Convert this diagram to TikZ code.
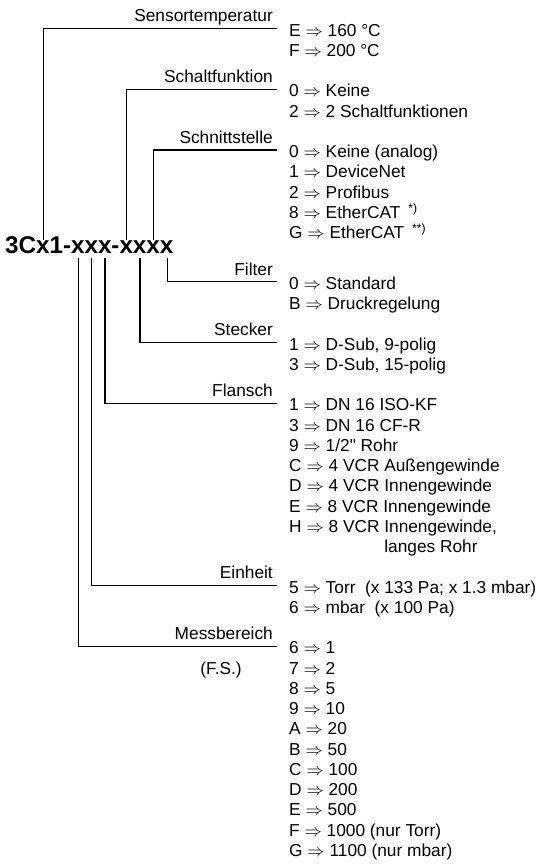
\documentclass[tikz,border=0pt]{standalone}
\usepackage{fontspec}
\setmainfont{Liberation Sans}
\tikzset{
  wire/.style={line width=1.1pt,line cap=rect},
  codetext/.style={anchor=base west,inner sep=0pt,font=\fontsize{24.2}{28}\selectfont\bfseries},
  lbl/.style={anchor=base east,inner sep=0pt},
  val/.style={anchor=base west,inner sep=0pt}
}
\newcommand{\ra}{$\Rightarrow$}

\begin{document}
\begin{tikzpicture}[x=1pt,y=-1pt,font=\fontsize{17.3}{20.25}\selectfont]
\useasboundingbox (0,0) rectangle (543,864);

% Typenschluessel
\node[codetext] (code) at (5,253) {3Cx1-xxx-xxxx};

% Stellen ueber / unter dem Code
\coordinate (tSens) at (43.3,239);
\coordinate (tSchalt) at (126.7,239);
\coordinate (tSchnitt) at (153.3,239);
\coordinate (tFilter) at (167.7,259);
\coordinate (tSteck) at (140,259);
\coordinate (tFlan) at (105,259);
\coordinate (tEinh) at (91.7,259);
\coordinate (tMess) at (78.3,259);

% Linienenden
\coordinate (eSens) at (276,28.5);
\coordinate (eSchalt) at (276,89.25);
\coordinate (eSchnitt) at (276,150);
\coordinate (eFilter) at (276,281.6);
\coordinate (eSteck) at (276,342.4);
\coordinate (eFlan) at (276,403.1);
\coordinate (eEinh) at (276,585.4);
\coordinate (eMess) at (276,646.1);

\draw[wire] (tSens) |- (eSens);
\draw[wire] (tSchalt) |- (eSchalt);
\draw[wire] (tSchnitt) |- (eSchnitt);
\draw[wire] (tFilter) |- (eFilter);
\draw[wire] (tSteck) |- (eSteck);
\draw[wire] (tFlan) |- (eFlan);
\draw[wire] (tEinh) |- (eEinh);
\draw[wire] (tMess) |- (eMess);

\node[lbl] (lSens) at ([shift={(-3,-6.5)}]eSens) {Sensortemperatur};
\node[lbl] (lSchalt) at ([shift={(-3,-6.5)}]eSchalt) {Schaltfunktion};
\node[lbl] (lSchnitt) at ([shift={(-3,-6.5)}]eSchnitt) {Schnittstelle};
\node[lbl] (lFilter) at ([shift={(-3,-6.5)}]eFilter) {Filter};
\node[lbl] (lSteck) at ([shift={(-3,-6.5)}]eSteck) {Stecker};
\node[lbl] (lFlan) at ([shift={(-3,-6.5)}]eFlan) {Flansch};
\node[lbl] (lEinh) at ([shift={(-3,-6.5)}]eEinh) {Einheit};
\node[lbl] (lMess) at ([shift={(-3,-6.5)}]eMess) {Messbereich};
\node[anchor=base,inner sep=0pt] (fs) at (221,674) {(F.S.)};

% Werte
\foreach \t [count=\i from 0] in {E \ra{} 160 °C, F \ra{} 200 °C}
  \node[val] (vSens\i) at ([shift={(13,7.7+20.25*\i)}]eSens) {\t};
\foreach \t [count=\i from 0] in {0 \ra{} Keine, 2 \ra{} 2 Schaltfunktionen}
  \node[val] (vSchalt\i) at ([shift={(13,7.7+20.25*\i)}]eSchalt) {\t};
\foreach \t [count=\i from 0] in {0 \ra{} Keine (analog), 1 \ra{} DeviceNet, 2 \ra{} Profibus,
    8 \ra{} EtherCAT\hspace{8pt}\textsuperscript{*)}, G \ra{} EtherCAT\hspace{8pt}\textsuperscript{**)}}
  \node[val] (vSchnitt\i) at ([shift={(13,7.7+20.25*\i)}]eSchnitt) {\t};
\foreach \t [count=\i from 0] in {0 \ra{} Standard, B \ra{} Druckregelung}
  \node[val] (vFilter\i) at ([shift={(13,7.7+20.25*\i)}]eFilter) {\t};
\foreach \t [count=\i from 0] in {{1 \ra{} D-Sub, 9-polig}, {3 \ra{} D-Sub, 15-polig}}
  \node[val] (vSteck\i) at ([shift={(13,7.7+20.25*\i)}]eSteck) {\t};
\foreach \t [count=\i from 0] in {1 \ra{} DN 16 ISO-KF, 3 \ra{} DN 16 CF-R, 9 \ra{} 1/2\textquotedbl{} Rohr,
    C \ra{} 4 VCR Außengewinde, D \ra{} 4 VCR Innengewinde, E \ra{} 8 VCR Innengewinde,
    {H \ra{} 8 VCR Innengewinde,}, \phantom{H \ra{} 8 VCR }langes Rohr}
  \node[val] (vFlan\i) at ([shift={(13,7.7+20.25*\i)}]eFlan) {\t};
\foreach \t [count=\i from 0] in {5 \ra{} Torr\ \ (x 133 Pa; x 1.3 mbar), 6 \ra{} mbar\ \ (x 100 Pa)}
  \node[val] (vEinh\i) at ([shift={(13,7.7+20.25*\i)}]eEinh) {\t};
\foreach \t [count=\i from 0] in {6 \ra{} 1, 7 \ra{} 2, 8 \ra{} 5, 9 \ra{} 10, A \ra{} 20, B \ra{} 50,
    C \ra{} 100, D \ra{} 200, E \ra{} 500, F \ra{} 1000 (nur Torr), G \ra{} 1100 (nur mbar)}
  \node[val] (vMess\i) at ([shift={(13,7.7+20.25*\i)}]eMess) {\t};

\end{tikzpicture}
\end{document}
